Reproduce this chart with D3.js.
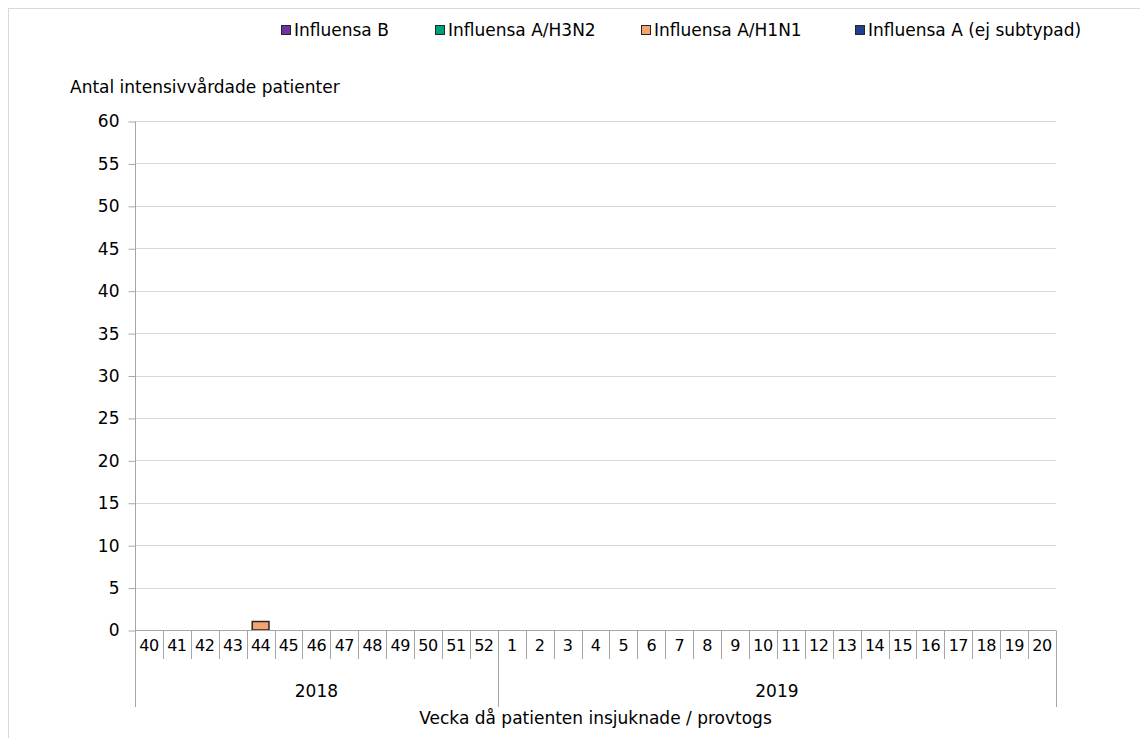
<!DOCTYPE html>
<html>
<head>
<meta charset="utf-8">
<script src="https://cdn.jsdelivr.net/npm/d3@7"></script>
<style>
  body { margin: 0; background: #fff; }
  svg text { font-family: "DejaVu Sans", sans-serif; fill: #000; }
</style>
</head>
<body>
<div id="chart"></div>
<script>
const width = 1140;
const height = 738;

// weeks 40-52 of 2018, then 1-20 of 2019
const weeks2018 = [40, 41, 42, 43, 44, 45, 46, 47, 48, 49, 50, 51, 52];
const weeks2019 = [1, 2, 3, 4, 5, 6, 7, 8, 9, 10, 11, 12, 13, 14, 15, 16, 17, 18, 19, 20];
const years = ["2018", "2019"];

// counts per week, same order as the weeks above
const influensaB     = [0,0,0,0,0,0,0,0,0,0,0,0,0, 0,0,0,0,0,0,0,0,0,0,0,0,0,0,0,0,0,0,0,0];
const influensaH3N2  = [0,0,0,0,0,0,0,0,0,0,0,0,0, 0,0,0,0,0,0,0,0,0,0,0,0,0,0,0,0,0,0,0,0];
const influensaH1N1  = [0,0,0,0,1,0,0,0,0,0,0,0,0, 0,0,0,0,0,0,0,0,0,0,0,0,0,0,0,0,0,0,0,0];
const influensaA     = [0,0,0,0,0,0,0,0,0,0,0,0,0, 0,0,0,0,0,0,0,0,0,0,0,0,0,0,0,0,0,0,0,0];

const seriesNames = ["Influensa B", "Influensa A/H3N2", "Influensa A/H1N1", "Influensa A (ej subtypad)"];
const seriesColors = ["#7030a0", "#00a07c", "#f4a46e", "#203f8f"];
const yTicks = [0, 5, 10, 15, 20, 25, 30, 35, 40, 45, 50, 55, 60];

const cats = weeks2018.map(w => "2018-" + w).concat(weeks2019.map(w => "2019-" + w));
const rows = cats.map((c, i) => ({
  key: c,
  week: c.split("-")[1],
  "Influensa B": influensaB[i],
  "Influensa A/H3N2": influensaH3N2[i],
  "Influensa A/H1N1": influensaH1N1[i],
  "Influensa A (ej subtypad)": influensaA[i]
}));

const margin = {left: 135, right: 84, top: 121, bottom: 108};
const fs = 17;

const svg = d3.select("#chart").append("svg")
  .attr("width", width)
  .attr("height", height);

// outer frame
svg.append("rect")
  .attr("x", 8.5).attr("y", 8.5)
  .attr("width", width).attr("height", height)
  .attr("fill", "none")
  .attr("stroke", "#d9d9d9");

const x = d3.scaleBand()
  .domain(cats)
  .range([margin.left, width - margin.right])
  .paddingInner(0.4)
  .paddingOuter(0.2);

const y = d3.scaleLinear()
  .domain([0, 60])
  .range([height - margin.bottom, margin.top]);

// grid
svg.append("g")
  .selectAll("line")
  .data(yTicks.filter(d => d > 0))
  .join("line")
  .attr("x1", margin.left).attr("x2", width - margin.right)
  .attr("y1", d => Math.round(y(d)) + 0.5).attr("y2", d => Math.round(y(d)) + 0.5)
  .attr("stroke", "#d9d9d9");

// y axis
const yAxis = svg.append("g")
  .attr("transform", `translate(${margin.left + 0.5},0.5)`)
  .call(d3.axisLeft(y).tickValues(yTicks).tickSize(7).tickPadding(9));
yAxis.selectAll("path, line").attr("stroke", "#a6a6a6");
yAxis.select(".domain").attr("d", `M0,${y(60)}V${y(0)}`);
yAxis.selectAll("text").attr("font-size", fs).attr("font-family", null);

svg.append("text")
  .attr("x", 70).attr("y", 93)
  .attr("font-size", fs)
  .text("Antal intensivvårdade patienter");

// stacked bars
const stack = d3.stack().keys(["Influensa A (ej subtypad)", "Influensa A/H1N1", "Influensa A/H3N2", "Influensa B"]);
const stacked = stack(rows);
const color = d3.scaleOrdinal().domain(seriesNames).range(seriesColors);

svg.append("g")
  .selectAll("g")
  .data(stacked)
  .join("g")
  .attr("fill", d => color(d.key))
  .selectAll("rect")
  .data(d => d.filter(p => p[1] - p[0] > 0))
  .join("rect")
  .attr("x", d => x(d.data.key))
  .attr("y", d => y(d[1]))
  .attr("width", x.bandwidth())
  .attr("height", d => y(d[0]) - y(d[1]))
  .attr("stroke", "#262626")
  .attr("stroke-width", 1.5);

// x axis baseline
const step = x.step();
const x0 = margin.left;
const x1 = width - margin.right;
const base = Math.round(y(0)) + 0.5;
svg.append("line")
  .attr("x1", x0).attr("x2", x1)
  .attr("y1", base).attr("y2", base)
  .attr("stroke", "#a6a6a6");

// week separators
const edges = d3.range(cats.length + 1).map(i => x0 + i * step);
const groupEdges = [0, weeks2018.length, cats.length];
svg.append("g")
  .selectAll("line")
  .data(edges.map((e, i) => ({e, i})))
  .join("line")
  .attr("x1", d => Math.round(d.e) + 0.5).attr("x2", d => Math.round(d.e) + 0.5)
  .attr("y1", base)
  .attr("y2", d => groupEdges.includes(d.i) ? 707 : 659)
  .attr("stroke", "#a6a6a6");

// week labels
svg.append("g")
  .selectAll("text")
  .data(rows)
  .join("text")
  .attr("x", d => x(d.key) + x.bandwidth() / 2)
  .attr("y", 651)
  .attr("text-anchor", "middle")
  .attr("font-size", 16)
  .attr("letter-spacing", -0.5)
  .text(d => d.week);

// year labels
svg.append("g")
  .selectAll("text")
  .data(years)
  .join("text")
  .attr("x", (d, i) => (edges[groupEdges[i]] + edges[groupEdges[i + 1]]) / 2)
  .attr("y", 697)
  .attr("text-anchor", "middle")
  .attr("font-size", fs)
  .text(d => d);

svg.append("text")
  .attr("x", (x0 + x1) / 2)
  .attr("y", 724)
  .attr("text-anchor", "middle")
  .attr("font-size", fs)
  .text("Vecka då patienten insjuknade / provtogs");

// legend
const legendX = [281, 435, 641, 855];
const legend = svg.append("g")
  .selectAll("g")
  .data(seriesNames)
  .join("g")
  .attr("transform", (d, i) => `translate(${legendX[i]},25)`);
legend.append("rect")
  .attr("x", 0.5).attr("y", 0.5)
  .attr("width", 9).attr("height", 9)
  .attr("fill", d => color(d))
  .attr("stroke", "#262626");
legend.append("text")
  .attr("x", 13).attr("y", 11)
  .attr("font-size", fs)
  .text(d => d);
</script>
</body>
</html>
